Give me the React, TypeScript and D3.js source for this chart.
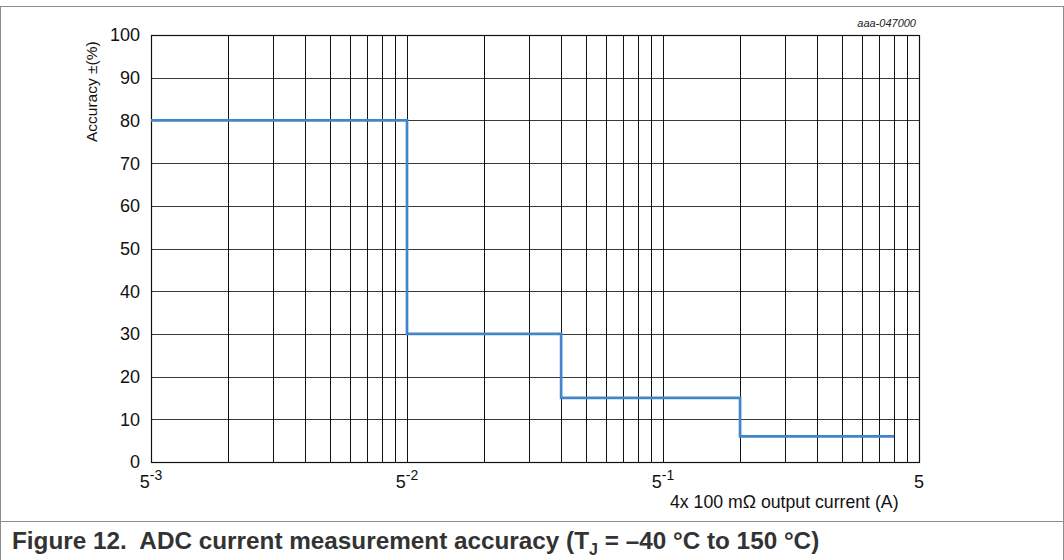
import * as d3 from "d3";
import { useEffect, useRef } from "react";

// step limits of the accuracy curve (A) and the accuracy in each band (%)
const stepCurrents = [0.005, 0.05, 0.2, 1, 4];
const stepAccuracy = [80, 30, 15, 6];

const yTicks = [0, 10, 20, 30, 40, 50, 60, 70, 80, 90, 100];
const xDecades = [0.005, 0.05, 0.5, 5];
const xTickBase = ["5", "5", "5", "5"];
const xTickExp = ["-3", "-2", "-1", ""];
const gridMultipliers = [1, 2, 3, 4, 5, 6, 7, 8, 9, 10];

const font = "'Liberation Sans', Arial, Helvetica, sans-serif";

export default function App() {
    const svgRef = useRef(null);

    useEffect(() => {
        document.body.style.margin = "0";
        const svg = d3.select(svgRef.current);
        svg.selectAll("*").remove();

        const left = 151, right = 919, top = 35, bottom = 462;

        const x = d3.scaleLog().domain([0.005, 5]).range([left, right]);
        const y = d3.scaleLinear().domain([0, 100]).range([bottom, top]);

        // figure frame
        const frame = svg.append("g").attr("fill", "none").attr("stroke", "#8c8c8c").attr("stroke-width", 1);
        frame.append("line").attr("x1", 0).attr("x2", 1064).attr("y1", 6.5).attr("y2", 6.5);
        frame.append("line").attr("x1", 0.5).attr("x2", 0.5).attr("y1", 6).attr("y2", 560);
        frame.append("line").attr("x1", 1063.5).attr("x2", 1063.5).attr("y1", 6).attr("y2", 560);
        frame.append("line").attr("x1", 0).attr("x2", 1064).attr("y1", 521.5).attr("y2", 521.5);

        const g = svg.append("g");

        // horizontal grid
        g.append("g")
            .selectAll("line")
            .data(yTicks)
            .join("line")
            .attr("x1", left)
            .attr("x2", right)
            .attr("y1", d => Math.round(y(d)) + 0.5)
            .attr("y2", d => Math.round(y(d)) + 0.5)
            .attr("stroke", "#3a3a3a")
            .attr("stroke-width", 1);

        // vertical grid: every multiple inside each decade
        const xGrid: number[] = [];
        xDecades.slice(0, -1).forEach(dec => {
            gridMultipliers.forEach(m => xGrid.push(dec * m));
        });
        g.append("g")
            .selectAll("line")
            .data(xGrid)
            .join("line")
            .attr("x1", d => Math.round(x(d)) + 0.5)
            .attr("x2", d => Math.round(x(d)) + 0.5)
            .attr("y1", top)
            .attr("y2", bottom)
            .attr("stroke", "#111")
            .attr("stroke-width", 1);

        // plot border
        g.append("rect")
            .attr("x", left + 0.5)
            .attr("y", top + 0.5)
            .attr("width", right - left)
            .attr("height", bottom - top)
            .attr("fill", "none")
            .attr("stroke", "#111")
            .attr("stroke-width", 1.2);

        // y tick labels
        g.append("g")
            .selectAll("text")
            .data(yTicks)
            .join("text")
            .attr("x", 140)
            .attr("y", d => y(d))
            .attr("dy", "0.36em")
            .attr("text-anchor", "end")
            .style("font-family", font)
            .style("font-size", "18px")
            .attr("fill", "#111")
            .text(d => d);

        // x tick labels with superscript exponent
        const xl = g.append("g")
            .selectAll("text")
            .data(xDecades)
            .join("text")
            .attr("x", d => x(d))
            .attr("y", 488)
            .attr("text-anchor", "middle")
            .style("font-family", font)
            .style("font-size", "18px")
            .attr("fill", "#111");
        xl.append("tspan").text((d, i) => xTickBase[i]);
        xl.append("tspan")
            .attr("dy", -8)
            .style("font-size", "14px")
            .text((d, i) => xTickExp[i]);

        // axis titles
        g.append("text")
            .attr("transform", "translate(97,142)rotate(-90)")
            .attr("text-anchor", "start")
            .style("font-family", font)
            .style("font-size", "15.5px")
            .attr("fill", "#111")
            .text("Accuracy ±(%)");

        g.append("text")
            .attr("x", 670)
            .attr("y", 508)
            .style("font-family", font)
            .style("font-size", "17.7px")
            .attr("fill", "#111")
            .text("4x 100 mΩ output current (A)");

        g.append("text")
            .attr("x", 916)
            .attr("y", 27)
            .attr("text-anchor", "end")
            .style("font-family", font)
            .style("font-size", "11px")
            .style("font-style", "italic")
            .attr("fill", "#222")
            .text("aaa-047000");

        // step curve
        const pts: [number, number][] = stepCurrents.map((c, i) => [c, stepAccuracy[Math.min(i, stepAccuracy.length - 1)]]);
        const line = d3.line<[number, number]>()
            .x(d => x(d[0]))
            .y(d => y(d[1]))
            .curve(d3.curveStepAfter);
        g.append("path")
            .attr("d", line(pts))
            .attr("fill", "none")
            .attr("stroke", "#4186cc")
            .attr("stroke-width", 2.7);

        // caption
        const cap = svg.append("text")
            .attr("x", 12)
            .attr("y", 549)
            .style("font-family", font)
            .style("font-size", "24.3px")
            .style("font-weight", "bold")
            .attr("fill", "#333")
            .attr("xml:space", "preserve");
        cap.append("tspan").text("Figure 12.  ADC current measurement accuracy (T");
        cap.append("tspan").attr("dy", 6).style("font-size", "16px").text("J");
        cap.append("tspan").attr("dy", -6).text(" = –40 °C to 150 °C)");
    }, []);

    return (
        <svg ref={svgRef} width={1064} height={560} style={{ display: "block", background: "#fff" }}></svg>
    );
}
